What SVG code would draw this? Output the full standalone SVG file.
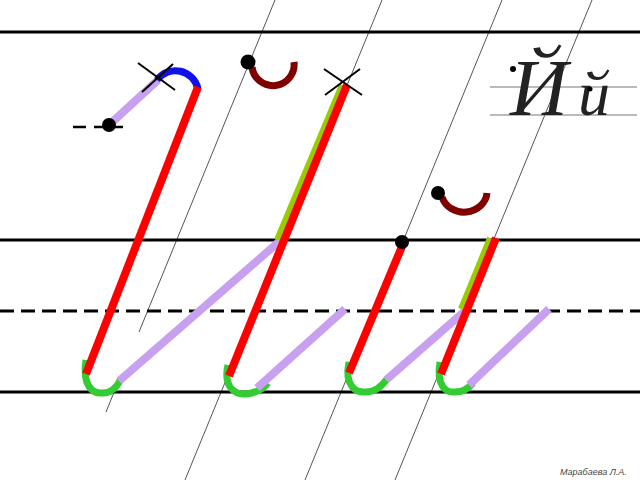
<svg xmlns="http://www.w3.org/2000/svg" width="640" height="480" viewBox="0 0 640 480">
<style>
.guide{stroke:#555;stroke-width:1;fill:none}
.thin{stroke:#777;stroke-width:1;fill:none}
.rule{stroke:#000;stroke-width:3}
.dash{stroke:#000;stroke-width:3;stroke-dasharray:14 7}
.red{stroke:#ff0000;stroke-width:8;fill:none}
.lil{stroke:#c8a0f0;stroke-width:8;fill:none}
.grn{stroke:#33cc33;stroke-width:7;fill:none}
.olv{stroke:#99cc00;stroke-width:6;fill:none}
.blu{stroke:#1010e8;stroke-width:7;fill:none}
.brv{stroke:#800000;stroke-width:7;fill:none}
.x{stroke:#000;stroke-width:2}
.dot{fill:#000}
.cur{font-family:"Liberation Serif","DejaVu Serif",serif;font-style:italic;fill:#222}
</style>
<rect width="640" height="480" fill="#fff"/>
<g id="guides">
  <line class="guide" x1="275" y1="0" x2="139" y2="332"/>
  <line class="guide" x1="117" y1="385" x2="106" y2="412"/>
  <line class="guide" x1="382" y1="0" x2="185" y2="480"/>
  <line class="guide" x1="502" y1="0" x2="305" y2="480"/>
  <line class="guide" x1="592" y1="0" x2="395" y2="480"/>
</g>
<g id="rulings">
  <line class="rule" x1="0" y1="32" x2="640" y2="32"/>
  <line class="rule" x1="0" y1="240" x2="640" y2="240"/>
  <line class="dash" x1="0" y1="311" x2="640" y2="311"/>
  <line class="rule" x1="0" y1="392" x2="640" y2="392"/>
</g>
<g id="sample">
  <line class="thin" x1="490" y1="87" x2="637" y2="87"/>
  <line class="thin" x1="490" y1="115" x2="637" y2="115"/>
  <text class="cur" x="510" y="115" font-size="80">Й</text>
  <text class="cur" x="578" y="115" font-size="64">й</text>
  <circle class="dot" cx="513" cy="69" r="3"/>
  <circle class="dot" cx="590" cy="89" r="2.5"/>
</g>
<g id="letter1">
  <line x1="73" y1="127" x2="86" y2="127" stroke="#000" stroke-width="2.5"/>
  <line x1="94" y1="127" x2="123" y2="127" stroke="#000" stroke-width="2.5"/>
  <line class="lil" x1="109" y1="125" x2="158" y2="80"/>
  <path class="blu" d="M 157 80 A 23 23 0 0 1 198 89"/>
  <path class="grn" d="M 86 360 C 82 385, 92 394, 103 393 C 111 393, 117 387, 121 379"/>
  <line class="red" x1="198" y1="87" x2="86" y2="374"/>
  <line class="lil" x1="119" y1="381" x2="281" y2="240"/>
  <circle class="dot" cx="109" cy="125" r="7"/>
  <line class="x" x1="138" y1="63" x2="175" y2="90"/>
  <line class="x" x1="173" y1="64" x2="142" y2="92"/>
</g>
<g id="letter2">
  <path class="brv" d="M 252 67 A 21 21 0 0 0 294 62"/>
  <circle class="dot" cx="248" cy="62" r="7.5"/>
  <line class="olv" x1="342" y1="85" x2="277" y2="240"/>
  <path class="grn" d="M 228 365 C 223 387, 235 395, 246 394 C 256 393, 263 389, 268 383"/>
  <line class="red" x1="347" y1="85" x2="229" y2="376"/>
  <line class="lil" x1="257" y1="388" x2="345" y2="309"/>
  <line class="x" x1="324" y1="69" x2="362" y2="95"/>
  <line class="x" x1="360" y1="69" x2="325" y2="95"/>
</g>
<g id="letter3">
  <path class="grn" d="M 349 362 C 344 386, 356 393, 366 392 C 375 392, 382 386, 387 379"/>
  <line class="red" x1="403" y1="244" x2="349" y2="373"/>
  <line class="lil" x1="386" y1="380" x2="466" y2="310"/>
  <circle class="dot" cx="402" cy="242" r="7"/>
</g>
<g id="letter4">
  <path class="brv" d="M 442 197 A 23 21 0 0 0 487 193"/>
  <circle class="dot" cx="438" cy="193" r="7"/>
  <line class="olv" x1="490" y1="238" x2="461" y2="309"/>
  <path class="grn" d="M 440 362 C 436 386, 446 393, 455 392 C 463 392, 469 388, 473 383"/>
  <line class="red" x1="496" y1="238" x2="441" y2="374"/>
  <line class="lil" x1="469" y1="385" x2="549" y2="309"/>
</g>
<text x="560" y="475" font-family="Liberation Sans, Arial, sans-serif" font-size="9" font-style="italic" fill="#444">Марабаева Л.А.</text>
</svg>
